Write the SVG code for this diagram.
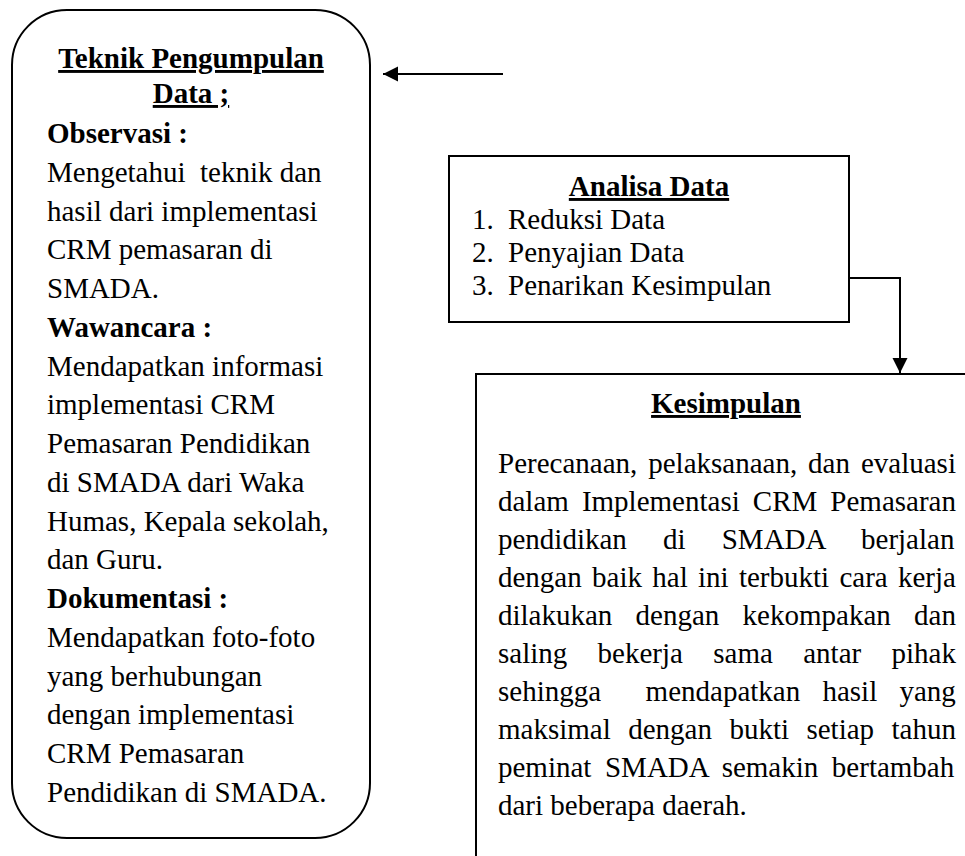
<svg xmlns="http://www.w3.org/2000/svg" width="965" height="856" viewBox="0 0 965 856">
<style>
text{font-family:"Liberation Serif","Times New Roman",serif;font-size:29px;fill:#000}
.b{font-weight:bold}
.u{text-decoration:underline}
.c{text-anchor:middle}
.box{fill:#fff;stroke:#000;stroke-width:2}
.conn{fill:none;stroke:#000;stroke-width:2}
</style>
<defs>
<marker id="ah" markerWidth="16" markerHeight="16" refX="15" refY="7.5" orient="auto" markerUnits="userSpaceOnUse">
<path d="M0,0 L15,7.5 L0,15 Z" fill="#000"/>
</marker>
</defs>
<rect width="965" height="856" fill="#fff"/>
<g id="teknik">
<rect class="box" x="12" y="10" width="358" height="828" rx="55" ry="55"/>
<text class="b u c" x="191" y="68">Teknik Pengumpulan</text>
<text class="b u c" x="191" y="103">Data ;</text>
<text class="b" x="47" y="143">Observasi :</text>
<text x="47" y="181.75" xml:space="preserve">Mengetahui  teknik dan</text>
<text x="47" y="220.5">hasil dari implementasi</text>
<text x="47" y="259.25">CRM pemasaran di</text>
<text x="47" y="298">SMADA.</text>
<text class="b" x="47" y="336.75">Wawancara :</text>
<text x="47" y="375.5">Mendapatkan informasi</text>
<text x="47" y="414.25">implementasi CRM</text>
<text x="47" y="453">Pemasaran Pendidikan</text>
<text x="47" y="491.75">di SMADA dari Waka</text>
<text x="47" y="530.5">Humas, Kepala sekolah,</text>
<text x="47" y="569.25">dan Guru.</text>
<text class="b" x="47" y="608">Dokumentasi :</text>
<text x="47" y="646.75">Mendapatkan foto-foto</text>
<text x="47" y="685.5">yang berhubungan</text>
<text x="47" y="724.25">dengan implementasi</text>
<text x="47" y="763">CRM Pemasaran</text>
<text x="47" y="801.75">Pendidikan di SMADA.</text>
</g>
<g id="analisa">
<rect class="box" x="449" y="156" width="400" height="166"/>
<text class="b u c" x="649" y="196">Analisa Data</text>
<text x="472" y="229">1.</text><text x="508" y="229">Reduksi Data</text>
<text x="472" y="262">2.</text><text x="508" y="262">Penyajian Data</text>
<text x="472" y="295">3.</text><text x="508" y="295">Penarikan Kesimpulan</text>
</g>
<g id="kesimpulan">
<rect class="box" x="476" y="374" width="600" height="600"/>
<text class="b u c" x="726" y="413">Kesimpulan</text>
<text x="498" y="473" word-spacing="3.7">Perecanaan, pelaksanaan, dan evaluasi</text>
<text x="498" y="511" word-spacing="5.8">dalam Implementasi CRM Pemasaran</text>
<text x="498" y="549" word-spacing="28.9">pendidikan di SMADA berjalan</text>
<text x="498" y="587" word-spacing="3.05">dengan baik hal ini terbukti cara kerja</text>
<text x="498" y="625" word-spacing="16">dilakukan dengan kekompakan dan</text>
<text x="498" y="663" word-spacing="23.1">saling bekerja sama antar pihak</text>
<text x="498" y="701" word-spacing="15" xml:space="preserve">sehingga  mendapatkan hasil yang</text>
<text x="498" y="739" word-spacing="10.2">maksimal dengan bukti setiap tahun</text>
<text x="498" y="777" word-spacing="6.3">peminat SMADA semakin bertambah</text>
<text x="498" y="815">dari beberapa daerah.</text>
</g>
<g id="connectors">
<path class="conn" d="M503,74 L383,74" marker-end="url(#ah)"/>
<path class="conn" d="M849,278 L900,278 L900,373" marker-end="url(#ah)"/>
</g>
</svg>
